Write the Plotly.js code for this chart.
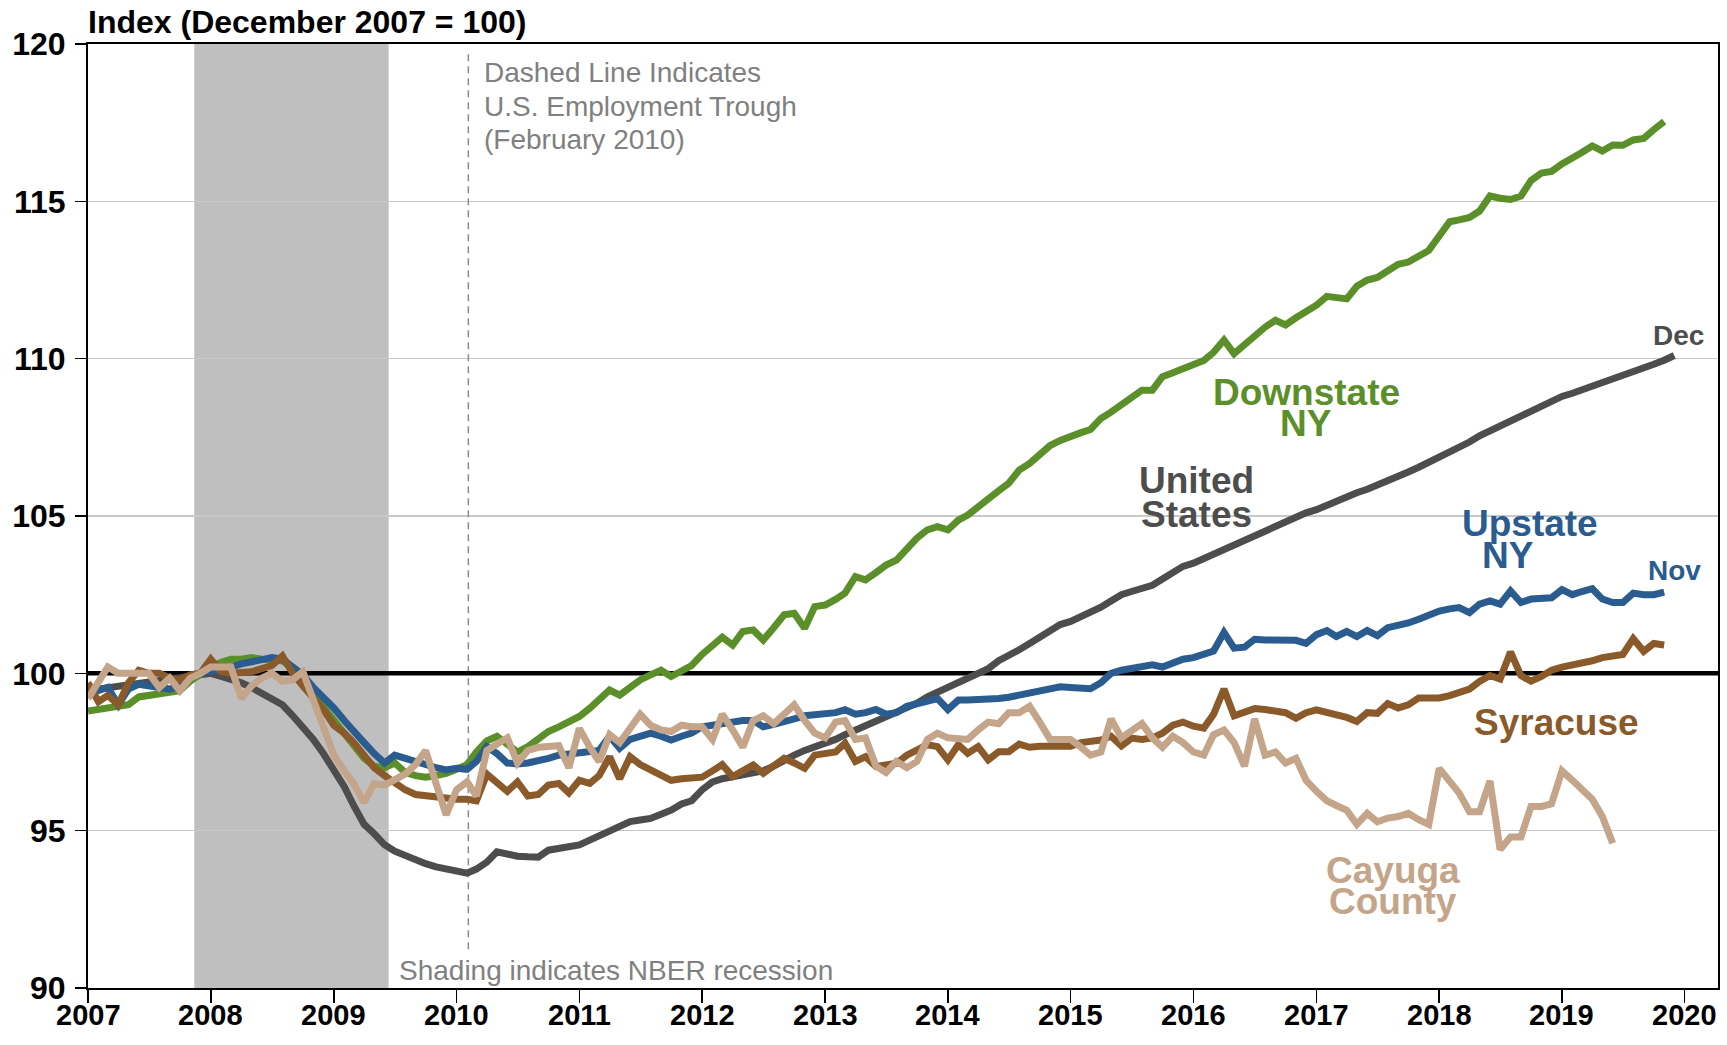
<!DOCTYPE html>
<html><head><meta charset="utf-8">
<script src="https://cdn.plot.ly/plotly-3.0.1.min.js"></script>
<style>html,body{margin:0;padding:0;background:#fff;} #chart{width:1727px;height:1045px;}</style>
</head><body><div id="chart"></div>
<script>
const startYear = 2007;
const yearTicks = [2007,2008,2009,2010,2011,2012,2013,2014,2015,2016,2017,2018,2019,2020];
const yTicks = [90,95,100,105,110,115,120];
const baseLevel = 100;
const xRange = ['2007-01-01','2020-04-09'];

const unitedStates = [
 99.45,99.5,99.55,99.6,99.65,99.7,99.75,99.8,99.85,99.9,99.95,100.0,
 100.0,99.9,99.81,99.7,99.55,99.35,99.2,99.0,98.65,98.3,97.9,97.45,
 96.95,96.4,95.8,95.2,94.9,94.55,94.35,94.2,94.05,93.95,93.85,93.78,
 93.72,93.65,93.78,94.0,94.33,94.25,94.19,94.17,94.16,94.38,94.45,94.48,
 94.55,94.7,94.85,95.0,95.15,95.29,95.34,95.39,95.52,95.65,95.85,95.95,
 96.3,96.55,96.65,96.7,96.75,96.8,96.9,97.05,97.25,97.4,97.55,97.65,
 97.75,97.9,98.05,98.2,98.3,98.45,98.6,98.75,98.89,99.05,99.25,99.4,
 99.5,99.65,99.85,100.0,100.15,100.4,100.55,100.75,100.95,101.15,101.4,101.55,
 101.65,101.8,101.92,102.1,102.3,102.5,102.6,102.72,102.8,103.0,103.2,103.4,
 103.5,103.65,103.8,103.97,104.1,104.25,104.4,104.5,104.65,104.8,104.95,105.1,
 105.2,105.35,105.5,105.6,105.74,105.85,106.0,106.12,106.25,106.4,106.55,106.7,
 106.85,107.0,107.2,107.35,107.55,107.71,107.85,108.0,108.17,108.3,108.5,108.65,
 108.8,108.9,109.0,109.15,109.25,109.35,109.45,109.58,109.68,109.82,109.95,110.1
];
const downstateNY = [
 98.8,98.85,98.9,98.95,99.0,99.25,99.3,99.3,99.35,99.45,99.75,100.0,
 100.2,100.35,100.45,100.45,100.5,100.45,100.45,100.4,100.15,99.75,99.3,98.9,
 98.55,98.1,97.7,97.3,97.05,97.0,97.15,96.85,96.75,96.7,96.75,96.82,
 96.95,97.1,97.5,97.85,98.0,97.75,97.5,97.67,97.9,98.15,98.3,98.45,
 98.63,98.89,99.15,99.47,99.31,99.55,99.79,99.95,100.1,99.9,100.1,100.25,
 100.6,100.85,101.15,100.9,101.33,101.38,101.06,101.45,101.86,101.91,101.43,102.12,
 102.17,102.35,102.55,103.07,102.97,103.2,103.44,103.6,103.95,104.3,104.56,104.66,
 104.56,104.87,105.03,105.3,105.6,105.8,106.04,106.46,106.67,106.95,107.24,107.4,
 107.5,107.65,107.75,108.1,108.3,108.55,108.8,109.0,109.0,109.43,109.55,109.69,
 109.85,109.94,110.2,110.59,110.16,110.45,110.75,111.0,111.22,111.07,111.3,111.49,
 111.7,111.98,111.95,111.9,112.3,112.5,112.58,112.8,113.0,113.07,113.25,113.44,
 113.9,114.35,114.41,114.49,114.69,115.17,115.1,115.06,115.17,115.66,115.9,115.95,
 116.19,116.35,116.55,116.76,116.6,116.79,116.78,116.95,117.0,117.28,117.54
];
const upstateNY = [
 99.35,99.45,99.55,99.0,99.5,99.65,99.6,99.5,99.5,99.6,99.85,100.0,
 100.05,100.15,100.2,100.3,100.35,100.45,100.5,100.45,100.2,99.95,99.55,99.25,
 98.9,98.5,98.2,97.8,97.45,97.15,97.4,97.3,97.15,97.05,97.0,96.93,
 96.98,96.95,97.2,97.67,97.45,97.15,97.12,97.15,97.2,97.3,97.4,97.45,
 97.48,97.5,97.55,98.0,97.62,97.9,98.0,98.1,98.0,97.88,98.0,98.1,
 98.3,98.35,98.4,98.47,98.5,98.5,98.3,98.38,98.45,98.55,98.65,98.68,
 98.68,98.75,98.84,98.7,98.75,98.85,98.7,98.75,98.95,99.05,99.15,99.2,
 98.85,99.15,99.15,99.15,99.15,99.2,99.24,99.3,99.39,99.45,99.5,99.57,
 99.55,99.51,99.51,99.7,100.0,100.1,100.14,100.2,100.27,100.2,100.35,100.45,
 100.5,100.6,100.71,101.3,100.8,100.83,101.08,101.06,101.05,101.05,101.05,100.95,
 101.23,101.36,101.17,101.33,101.17,101.36,101.2,101.45,101.52,101.6,101.72,101.85,
 101.98,102.05,102.09,101.93,102.2,102.3,102.2,102.62,102.25,102.36,102.36,102.4,
 102.66,102.5,102.6,102.69,102.36,102.25,102.25,102.55,102.5,102.5,102.58
];
const syracuse = [
 99.7,99.1,99.3,99.0,99.7,100.1,100.0,100.0,99.85,99.8,99.95,100.0,
 100.45,100.05,100.0,100.0,100.05,100.15,100.25,100.55,100.0,99.6,99.2,98.85,
 98.35,98.1,97.8,97.4,97.0,96.75,96.5,96.3,96.15,96.1,96.05,96.0,
 96.0,96.0,95.95,96.8,96.5,96.25,96.55,96.1,96.15,96.45,96.5,96.2,
 96.6,96.5,96.75,97.35,96.65,97.35,97.1,96.95,96.75,96.6,96.65,96.65,
 96.7,96.9,97.1,96.72,96.9,97.09,96.82,97.05,97.3,97.15,96.98,97.4,
 97.45,97.5,97.78,97.2,97.35,97.04,97.09,97.14,97.4,97.57,97.73,97.67,
 97.25,97.73,97.46,97.67,97.25,97.51,97.51,97.75,97.65,97.68,97.68,97.7,
 97.68,97.8,97.82,97.88,98.0,97.69,97.94,97.9,97.95,98.1,98.35,98.45,
 98.32,98.26,98.7,99.5,98.65,98.75,98.88,98.85,98.82,98.75,98.57,98.75,
 98.84,98.77,98.7,98.6,98.47,98.75,98.73,99.04,98.9,99.0,99.22,99.22,
 99.22,99.29,99.4,99.5,99.74,99.93,99.82,100.68,99.93,99.75,99.9,100.1,
 100.2,100.25,100.3,100.4,100.5,100.55,100.6,101.1,100.7,100.95,100.9
];
const cayugaCounty = [
 99.2,99.75,100.2,100.0,100.0,100.05,100.0,99.55,99.85,99.45,99.85,100.0,
 100.2,100.2,100.2,99.2,99.6,99.85,100.0,99.75,99.8,100.05,99.2,98.3,
 97.4,96.9,96.5,95.9,96.5,96.45,96.65,96.8,97.1,97.55,96.5,95.5,
 96.3,96.55,96.1,97.55,97.75,97.95,97.15,97.55,97.65,97.7,97.7,97.0,
 98.25,97.65,97.2,98.05,97.8,98.25,98.7,98.35,98.2,98.15,98.35,98.3,
 98.3,97.9,98.7,98.2,97.65,98.5,98.65,98.4,98.7,99.0,98.5,98.1,
 97.95,98.45,98.5,97.9,97.95,97.05,96.85,97.2,97.0,97.2,97.9,98.1,
 97.95,97.9,97.9,98.2,98.45,98.4,98.75,98.75,98.95,98.45,97.9,97.9,
 97.9,97.65,97.4,97.5,98.55,97.95,98.2,98.4,97.95,97.65,98.0,97.8,
 97.5,97.4,98.05,98.2,97.8,97.05,98.55,97.4,97.5,97.15,97.3,96.6,
 96.25,95.95,95.8,95.65,95.2,95.55,95.28,95.4,95.45,95.55,95.35,95.2,
 96.98,96.6,96.2,95.6,95.6,96.58,94.4,94.8,94.8,95.77,95.77,95.85,
 96.9,96.6,96.3,96.0,95.45,94.6
];

function monthDates(n){
  const out=[];
  for(let i=0;i<n;i++){
    const y=startYear+Math.floor(i/12), m=(i%12)+1;
    out.push(y+'-'+String(m).padStart(2,'0')+'-01');
  }
  return out;
}

const C = {green:'#5b8f29', gray:'#4d4d4d', blue:'#2a5c8f', brown:'#8b5a2b', tan:'#c4a589', shade:'#bfbfbf', note:'#808080'};
const FONT = '"Liberation Sans", Arial, Helvetica, sans-serif';

function line(y, color){
  return {x: monthDates(y.length), y: y, type:'scatter', mode:'lines',
    line:{color: color, width:7, shape:'linear'}, hoverinfo:'skip'};
}
// reference level (December 2007 = 100), drawn beneath the series
const baseTrace = {x: xRange, y: [baseLevel, baseLevel], type:'scatter', mode:'lines',
  line:{color:'#000000', width:4.5}, hoverinfo:'skip', cliponaxis:false};
const traces = [
  baseTrace,
  line(unitedStates, C.gray),
  line(downstateNY, C.green),
  line(upstateNY, C.blue),
  line(syracuse, C.brown),
  line(cayugaCounty, C.tan)
];

// paper coordinate helpers (plot area 88..1718 x, 44..988 y)
const px = fx => (fx-88)/1630;
const py = fy => (988-fy)/944;

function lab(text, fx, fy, color, size, bold, anchor){
  return {xref:'paper', yref:'paper', x:px(fx), y:py(fy), text: bold?'<b>'+text+'</b>':text,
    showarrow:false, xanchor: anchor||'center', yanchor:'middle',
    font:{family:FONT, size:size, color:color}};
}
const annotations = [
  lab('Downstate', 1306, 392, C.green, 37, true),
  lab('NY', 1306, 423, C.green, 37, true),
  lab('United', 1196, 480, C.gray, 37, true),
  lab('States', 1196, 514, C.gray, 37, true),
  lab('Upstate', 1530, 523, C.blue, 37, true),
  lab('NY', 1508, 555, C.blue, 37, true),
  lab('Nov', 1674, 570, C.blue, 28, true),
  lab('Dec', 1678, 335, C.gray, 28, true),
  lab('Syracuse', 1556, 722, C.brown, 37, true),
  lab('Cayuga', 1393, 870, C.tan, 37, true),
  lab('County', 1393, 901, C.tan, 37, true),
  lab('Dashed Line Indicates', 482, 72.5, C.note, 28, false, 'left'),
  lab('U.S. Employment Trough', 482, 106, C.note, 28, false, 'left'),
  lab('(February 2010)', 482, 140, C.note, 28, false, 'left'),
  lab('Shading indicates NBER recession', 396.5, 970, C.note, 28, false, 'left')
];
// year tick labels placed just under the tick marks
yearTicks.forEach(y => {
  annotations.push({xref:'x', yref:'paper', x: y+'-01-01', y: py(1015), text:'<b>'+y+'</b>',
    showarrow:false, xanchor:'center', yanchor:'middle', font:{family:FONT, size:29, color:'#000'}});
});

const shapes = [
  {type:'rect', xref:'x', yref:'paper', x0:'2007-11-13', x1:'2009-06-13', y0:0, y1:1,
   fillcolor:C.shade, line:{width:0}, layer:'between'},
  {type:'rect', xref:'paper', yref:'y', x0:px(1105), x1:px(1252), y0:104.8, y1:105.2,
   fillcolor:'#ffffff', line:{width:0}, layer:'between'},
  {type:'rect', xref:'paper', yref:'y', x0:px(1439), x1:px(1621), y0:104.8, y1:105.2,
   fillcolor:'#ffffff', line:{width:0}, layer:'between'},
  {type:'line', xref:'x', yref:'y', x0:'2010-02-05', x1:'2010-02-05', y0:91.23, y1:119.72,
   line:{color:'#8c8c8c', width:1.5, dash:'7px,5px'}, layer:'between'}
];

const layout = {
  width:1727, height:1045,
  margin:{l:88, r:9, t:44, b:57, pad:0},
  paper_bgcolor:'#ffffff', plot_bgcolor:'#ffffff',
  showlegend:false,
  font:{family:FONT, color:'#000000'},
  title:{text:'<b>Index (December 2007 = 100)</b>', xref:'container', x:88/1727, xanchor:'left',
         yref:'container', y:1-21.5/1045, yanchor:'middle', font:{family:FONT, size:32, color:'#000'}},
  xaxis:{type:'date', range:xRange,
    tickmode:'array', tickvals: yearTicks.map(y=>y+'-01-01'), showticklabels:false,
    ticks:'outside', ticklen:13, tickwidth:1.5, tickcolor:'#000',
    showgrid:false, zeroline:false, showline:true, linecolor:'#000', linewidth:2, mirror:true},
  yaxis:{range:[90,120], tickmode:'array', tickvals:yTicks, ticktext:yTicks.map(v=>'<b>'+v+'</b>'),
    ticks:'outside', ticklen:11, tickwidth:1.5, tickcolor:'#000', ticklabelstandoff:3,
    showgrid:true, gridcolor:'#c8c8c8', gridwidth:1.5, zeroline:false,
    showline:true, linecolor:'#000', linewidth:2, mirror:true,
    tickfont:{family:FONT, size:32, color:'#000'}},
  annotations: annotations,
  shapes: shapes
};

Plotly.newPlot('chart', traces, layout, {displayModeBar:false, staticPlot:true});
</script>
</body></html>
